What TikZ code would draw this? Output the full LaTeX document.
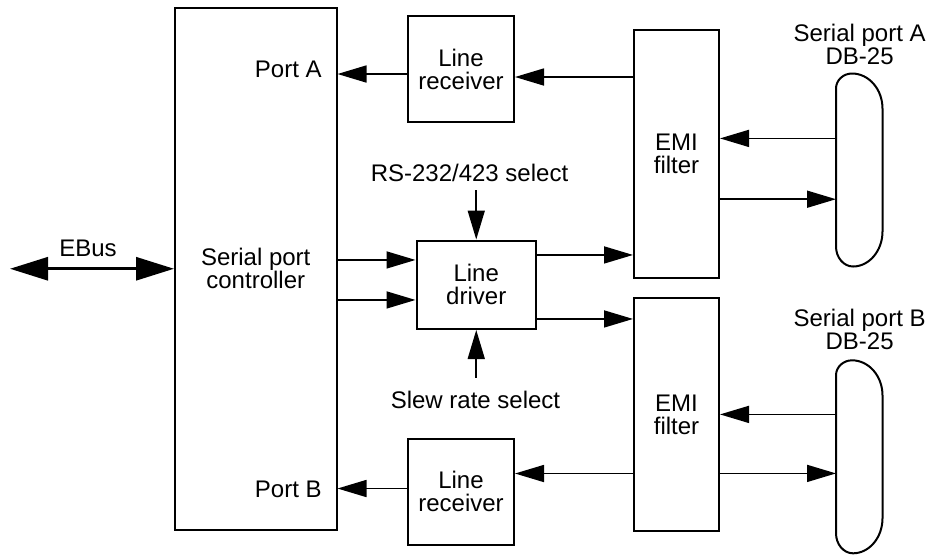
\documentclass[tikz,border=0pt]{standalone}
\usepackage{fontspec}
\setmainfont{Liberation Sans}
\usetikzlibrary{positioning,arrows.meta}

\begin{document}
\begin{tikzpicture}[x=0.5pt, y=-0.5pt, every node/.style={font=\fontsize{12}{11.5}\selectfont}]
\tikzset{
  box/.style={draw, line width=1pt, align=center, inner sep=0pt},
  lbl/.style={inner sep=0pt, align=center},
  arrow/.style={-{Triangle[length=14.5pt, width=8.5pt]}, line width=0.8pt},
  busarrow/.style={{Triangle[length=19pt, width=11.5pt]}-{Triangle[length=19pt, width=11.5pt]}, line width=1.5pt}
}
\useasboundingbox (0,0) rectangle (932,554);

% Nodes
\node[box, minimum width=80.75pt, minimum height=260.75pt] (ctrl) at (255.75,268.75) {Serial port\\controller};
\node[box, minimum width=53pt, minimum height=53pt, below right=4pt and 34.75pt of ctrl.north east] (lrA) {Line\\receiver};
\node[box, minimum width=53pt, minimum height=53pt, below=157.25pt of lrA] (lrB) {Line\\receiver};
\node[box, minimum width=59.75pt, minimum height=44.25pt, right=39pt of ctrl.east, yshift=-8pt] (drv) {Line\\driver};
\node[box, minimum width=42.5pt, minimum height=124.25pt, below right=6.75pt and 59pt of lrA.north east] (emiA) {EMI\\filter};
\node[box, minimum width=42.5pt, minimum height=116.5pt, below=9pt of emiA] (emiB) {EMI\\filter};
\node[minimum width=23.25pt, minimum height=96.5pt, inner sep=0pt, below right=22.5pt and 58pt of emiA.north east] (dbA) {};
\node[minimum width=23.25pt, minimum height=96.5pt, inner sep=0pt, below=46.5pt of dbA] (dbB) {};

% Labels
\node[lbl, anchor=east, xshift=-7.75pt] (portA) at (ctrl.east |- lrA) {Port A};
\node[lbl, anchor=east, xshift=-7.75pt, yshift=1.25pt] (portB) at (ctrl.east |- lrB) {Port B};
\node[lbl] (rs) at (469.5,173) {RS-232/423 select};
\node[lbl] (slew) at (475.5,400) {Slew rate select};
\node[lbl, above=4pt of dbA] (labA) {Serial port A\\DB-25};
\node[lbl, above=5pt of dbB] (labB) {Serial port B\\DB-25};
\coordinate[left=82pt of ctrl.west] (bus);

% DB-25 outlines
\foreach \c in {dbA,dbB}
  \draw[line width=1pt, shift={(\c.north west)}] (0,15) .. controls (0,6.75) and (7.2,0) .. (16,0)
    .. controls (32.8,0) and (46.5,15.75) .. (46.5,35) -- (46.5,158)
    .. controls (46.5,177.25) and (33.2,193) .. (17,193)
    .. controls (7.65,193) and (0,184) .. (0,173) -- cycle;

% Arrows
\draw[busarrow] (bus) -- node[lbl, above=5.5pt, xshift=-2pt] (ebus) {EBus} (ctrl.west);
\draw[arrow] ([yshift=-4pt]lrA.east -| emiA.west) -- ([yshift=-4pt]lrA.east);
\draw[arrow] ([yshift=-2.5pt]lrA.west) -- ([yshift=-2.5pt]lrA.west -| ctrl.east);
\draw[arrow] ([yshift=16pt]dbA.west) -- ([yshift=16pt]dbA.west -| emiA.east);
\draw[arrow] ([yshift=-14.4pt]dbA.west -| emiA.east) -- ([yshift=-14.4pt]dbA.west);
\draw[arrow] ([yshift=12.4pt]drv.west -| ctrl.east) -- ([yshift=12.4pt]drv.west);
\draw[arrow] ([yshift=-7.6pt]drv.west -| ctrl.east) -- ([yshift=-7.6pt]drv.west);
\draw[arrow] ([yshift=14.9pt]drv.east) -- ([yshift=14.9pt]drv.east -| emiA.west);
\draw[arrow] ([yshift=-17.1pt]drv.east) -- ([yshift=-17.1pt]drv.east -| emiB.west);
\draw[arrow] ([yshift=-4pt]rs.south -| drv.north) -- (drv.north);
\draw[arrow] ([yshift=6.5pt]slew.north -| drv.south) -- (drv.south);
\draw[arrow] ([yshift=9pt]lrB.east -| emiB.west) -- ([yshift=9pt]lrB.east);
\draw[arrow] ([yshift=1.5pt]lrB.west) -- ([yshift=1.5pt]lrB.west -| ctrl.east);
\draw[arrow] ([yshift=21.4pt]dbB.west) -- ([yshift=21.4pt]dbB.west -| emiB.east);
\draw[arrow] ([yshift=-8.1pt]dbB.west -| emiB.east) -- ([yshift=-8.1pt]dbB.west);
\end{tikzpicture}
\end{document}
